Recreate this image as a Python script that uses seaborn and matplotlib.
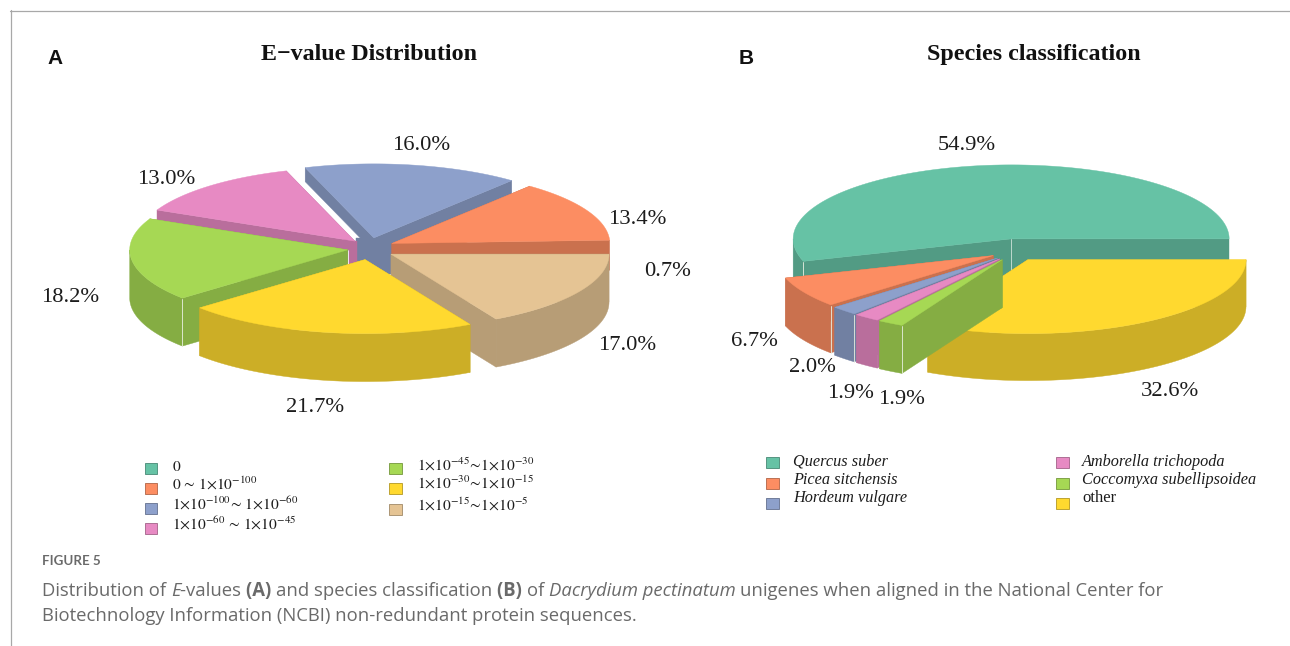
import numpy as np
import seaborn as sns
import matplotlib
matplotlib.use("Agg")
import matplotlib.pyplot as plt
from matplotlib.patches import Polygon, Rectangle

# ---- data ----
evalue_labels = [r"$0$", r"$0\,\sim\,1{\times}10^{-100}$", r"$1{\times}10^{-100}\!\sim\,1{\times}10^{-60}$",
                 r"$1{\times}10^{-60}\,\sim\,1{\times}10^{-45}$", r"$1{\times}10^{-45}\!\sim\!1{\times}10^{-30}$",
                 r"$1{\times}10^{-30}\!\sim\!1{\times}10^{-15}$", r"$1{\times}10^{-15}\!\sim\!1{\times}10^{-5}$"]
evalue_values = [0.7, 13.4, 16.0, 13.0, 18.2, 21.7, 17.0]
species_labels = ["Quercus suber", "Picea sitchensis", "Hordeum vulgare",
                  "Amborella trichopoda", "Coccomyxa subellipsoidea", "other"]
species_values = [54.9, 6.7, 2.0, 1.9, 1.9, 32.6]

# ---- style / layout ----
sns.set_theme(style="white")
plt.rcParams["font.family"] = ["Liberation Serif", "DejaVu Sans"]
plt.rcParams["mathtext.fontset"] = "stix"
palette = sns.color_palette("Set2", 7)
palette_a = [palette[i] for i in [0, 1, 2, 3, 4, 5, 6]]
palette_b = [palette[i] for i in [0, 1, 2, 3, 4, 5]]
RX, RY = 218, 74
EXPLODE_Y = 0.45
SHADE = 0.8
TXT = "#1c1c1c"


def ell(cx, cy, t):
    t = np.radians(t)
    return np.c_[cx + RX * np.cos(t), cy - RY * np.sin(t)]


def draw_pie(ax, values, colors, center, explode, depth, order, hubs, seams):
    cum = np.cumsum([0] + list(values)) * 3.6
    apex = []
    for i in range(len(values)):
        mid = np.radians((cum[i] + cum[i + 1]) / 2)
        apex.append((center[0] + explode[i] * np.cos(mid),
                     center[1] - explode[i] * EXPLODE_Y * np.sin(mid)))
    for i in order:
        th0, th1 = cum[i], cum[i + 1]
        ax_, ay_ = apex[i]
        d = depth[i]
        col = colors[i]
        side = tuple(c * SHADE for c in col)
        kw = dict(facecolor=side, edgecolor=side, lw=0.3)
        if i in hubs:
            l, r, h = hubs[i]
            ax.add_patch(Rectangle((ax_ + l, ay_), r - l, h, **kw))
        for th in (th0, th1):
            p = ell(ax_, ay_, th)[0]
            ax.add_patch(Polygon([(ax_, ay_), p, (p[0], p[1] + d), (ax_, ay_ + d)], **kw))
        lo, hi = max(th0, 180), min(th1, 360)
        if hi > lo:
            arc = ell(ax_, ay_, np.linspace(lo, hi, 80))
            ax.add_patch(Polygon(np.r_[arc, (arc + [0, d])[::-1]], **kw))
        arc = ell(ax_, ay_, np.linspace(th0, th1, 120))
        ax.add_patch(Polygon(np.r_[[(ax_, ay_)], arc], facecolor=col, edgecolor=col, lw=0.3))
        for s in seams.get(i, []):
            if s == "apex":
                ax.plot([ax_, ax_], [ay_, ay_ + d * 0.75], color="#cfe3da", lw=0.6, zorder=1)
            else:
                p = ell(ax_, ay_, th1)[0]
                ax.plot([p[0], p[0]], [p[1] + 1, p[1] + d], color="#e8efe0", lw=0.6, zorder=1)


def fig_text(ax, x, y, s, **kw):
    kw.setdefault("color", TXT)
    kw.setdefault("va", "center")
    return ax.text(x, y, s, **kw)


fig = plt.figure(figsize=(12.9, 6.46), dpi=100)
ax = fig.add_axes([0, 0, 1, 1])
ax.set_xlim(0, 1290)
ax.set_ylim(646, 0)
ax.axis("off")

# frame
ax.plot([10, 1290], [10.5, 10.5], color="#a8a8a8", lw=0.9)
ax.plot([10.5, 10.5], [10, 646], color="#a8a8a8", lw=0.9)

# pies
draw_pie(ax, evalue_values, palette_a, (369.5, 248.5), [18, 25, 24, 22, 22, 25, 25],
         [13, 30, 14, 10, 48, 48, 48], [0, 2, 3, 1, 4, 6, 5],
         {2: (-18, 18, 36), 3: (-6, 2, 24)}, {4: ["end"]})
draw_pie(ax, species_values, palette_b, (1015, 250), [25] * 6,
         [47, 48, 48, 48, 48, 47], [0, 1, 2, 3, 5, 4],
         {}, {0: ["apex", "end"], 1: ["end"], 2: ["end"], 4: ["end"]})

# headings
fig_text(ax, 369, 60, "E\u2212value Distribution", fontsize=17.3, fontweight="bold", ha="center", va="baseline", color="#111111")
fig_text(ax, 1033.5, 60, "Species classification", fontsize=17.3, fontweight="bold", ha="center", va="baseline", color="#111111")
fig_text(ax, 55, 58, "A", fontsize=15, fontweight="bold", family="Liberation Sans", ha="center", color="#111111")
fig_text(ax, 746.5, 58, "B", fontsize=15, fontweight="bold", family="Liberation Sans", ha="center", color="#111111")

# value labels
pos_a = [(668, 272), (637, 219), (421, 146), (166, 179), (70, 297), (315, 408), (627, 345)]
pos_b = [(967, 146), (754, 342), (812, 368), (850, 394), (901, 400), (1170, 392)]
for v, (x, y) in zip(evalue_values, pos_a):
    fig_text(ax, x, y, f"{v:.1f}%", fontsize=16.2, ha="center")
for v, (x, y) in zip(species_values, pos_b):
    fig_text(ax, x, y, f"{v:.1f}%", fontsize=16.2, ha="center")

# legends
def legend(items, colors, sx, tx, sy, ty, **kw):
    for lab, c, y0, y1 in zip(items, colors, sy, ty):
        ax.add_patch(Rectangle((sx, y0 - 5.5), 12.5, 11, facecolor=c,
                               edgecolor=tuple(k * 0.7 for k in c), lw=0.6))
        fig_text(ax, tx, y1, lab, **kw)


legend(evalue_labels[:4], palette_a[:4], 144.5, 172, [468, 488, 508, 528], [467, 485, 505, 525], fontsize=11.2)
legend(evalue_labels[4:], palette_a[4:], 389, 417, [468, 488, 509], [466, 484, 506], fontsize=11.2)
legend(species_labels[:3], palette_b[:3], 766, 793, [462, 483, 503], [462, 480, 498], fontsize=11.7, style="italic")
legend(species_labels[3:5], palette_b[3:5], 1056, 1082, [462, 483], [462, 480], fontsize=11.7, style="italic")
legend(species_labels[5:], palette_b[5:], 1056, 1082, [503], [498], fontsize=12)

# caption
CAP = "#6a6a6a"
fig_text(ax, 42, 561, "FIGURE 5", fontsize=9.6, family="Lato", color=CAP, fontweight="bold")
fig.canvas.draw()
rend = fig.canvas.get_renderer()


def runs(x, y, parts, size=13.33):
    for s, kw in parts:
        t = fig_text(ax, x, y, s, fontsize=size, family="Open Sans", color=CAP, **kw)
        x += t.get_window_extent(rend).width


B = dict(fontweight="bold")
I = dict(style="italic")
runs(42, 591, [("Distribution of ", {}), ("E", I), ("-values ", {}), ("(A) ", B), ("and species classification ", {}),
               ("(B) ", B), ("of ", {}), ("Dacrydium pectinatum ", I),
               ("unigenes when aligned in the National Center for", {})])
runs(42, 616, [("Biotechnology Information (NCBI) non-redundant protein sequences.", {})])

fig.savefig("out.png", dpi=100)
